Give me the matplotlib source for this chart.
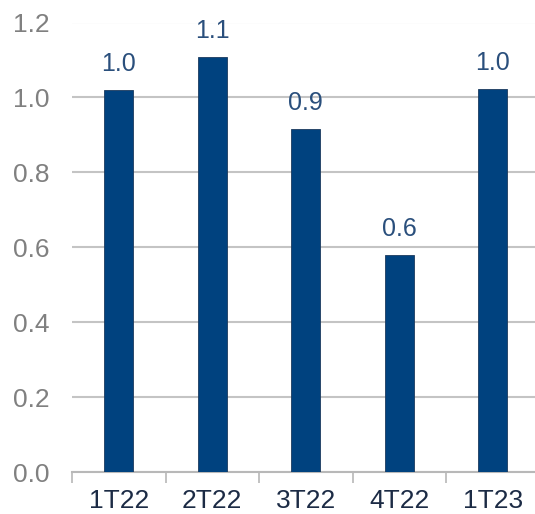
import numpy as np
import matplotlib
matplotlib.use('Agg')
from matplotlib import pyplot as plt

categories = ['1T22', '2T22', '3T22', '4T22', '1T23']
values = [1.019, 1.107, 0.916, 0.580, 1.022]
value_labels = ['1.0', '1.1', '0.9', '0.6', '1.0']
y_ticks = [0.0, 0.2, 0.4, 0.6, 0.8, 1.0, 1.2]

plt.rcParams['font.family'] = ['Liberation Sans', 'DejaVu Sans']

fig = plt.figure(figsize=(5.35, 5.14), dpi=100)
ax = fig.add_axes([72 / 535, 1 - 472 / 514, 467.5 / 535, 449.5 / 514])

x = np.arange(len(categories))
bars = ax.bar(x, values, width=0.31, color='#00427f', edgecolor='#1b3a5e',
              linewidth=0.6, zorder=3)

for xi, v, lab in zip(x, values, value_labels):
    ax.annotate(lab, (xi, v), xytext=(0, 10), textcoords='offset points',
                ha='center', va='bottom', fontsize=18, color='#2a4f7c')

ax.set_xlim(-0.5, len(categories) - 0.5)
ax.set_ylim(0, 1.2)
ax.set_yticks(y_ticks)
ax.set_yticklabels(['%.1f' % t for t in y_ticks])
ax.set_xticks(x)
ax.set_xticklabels(categories)
ax.set_xticks(np.arange(-0.5, len(categories), 1.0), minor=True)

ax.tick_params(axis='y', length=0, pad=16, labelsize=19, labelcolor='#808080')
ax.tick_params(axis='x', which='major', length=0, pad=12, labelsize=19,
               labelcolor='#1c2b45')
ax.tick_params(axis='x', which='minor', length=8, width=1.2, color='#b8b8b8')

ax.grid(axis='y', color='#c4c4c4', linewidth=1.5, zorder=0)
for s in ['top', 'right', 'left']:
    ax.spines[s].set_visible(False)
ax.spines['bottom'].set_color('#b8b8b8')
ax.spines['bottom'].set_linewidth(1.5)

fig.savefig('out.png', dpi=100)
